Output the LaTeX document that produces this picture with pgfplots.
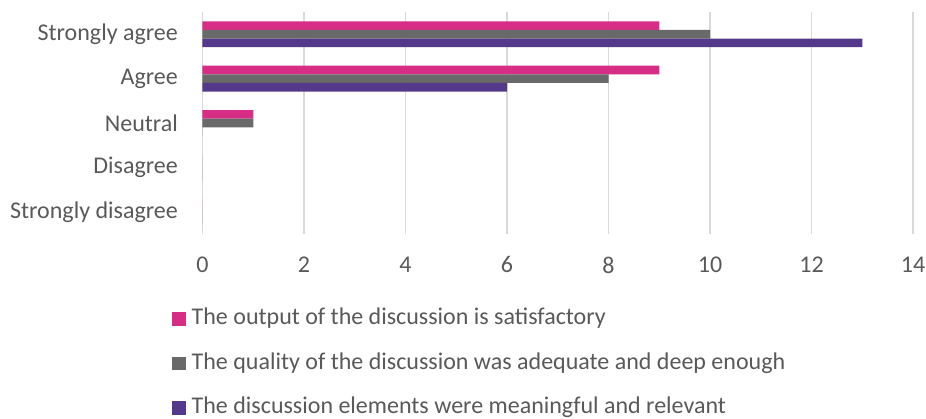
\documentclass[border=0pt]{standalone}
\usepackage{fontspec}
\setmainfont{Carlito}
\usepackage{pgfplots}
\pgfplotsset{compat=1.18}

\definecolor{cpink}{RGB}{214,46,132}
\definecolor{cgray}{RGB}{105,105,105}
\definecolor{cpurple}{RGB}{84,57,138}
\definecolor{ctext}{RGB}{89,89,89}
\definecolor{cgrid}{RGB}{217,217,217}

\begin{document}
\begin{tikzpicture}
\useasboundingbox (0,0) rectangle (926pt,-419pt);
\begin{axis}[
    at={(202.5pt,-234pt)}, anchor=south west,
    scale only axis, width=710.5pt, height=222pt,
    xbar, bar width=8.6pt,
    xmin=0, xmax=14, ymin=-0.5, ymax=4.5,
    xtick={0,2,...,14},
    ytick={0,1,2,3,4},
    yticklabels={Strongly disagree,Disagree,Neutral,Agree,Strongly agree},
    axis x line=bottom, axis y line=left,
    axis line style={draw=none},
    major tick length=0pt,
    xmajorgrids, grid style={cgrid, line width=1.3pt},
    /pgf/number format/assume math mode=true,
    font=\fontsize{24}{28}\selectfont,
    ticklabel style={text=ctext, font=\fontsize{24}{28}\selectfont},
    yticklabel style={anchor=east, inner sep=0pt, xshift=-24.5pt},
    xticklabel style={anchor=north, inner sep=0pt, yshift=-22.5pt},
    legend style={at={(-0.0425,-0.3288)}, anchor=north west, draw=none, fill=none,
        inner sep=0pt, outer sep=0pt, row sep=20.5pt,
        nodes={inner sep=0pt, text=ctext, text height=18pt, text depth=6pt},
        font=\fontsize{24}{28}\selectfont},
    legend cell align=left,
    legend image code/.code={\fill[#1] (0pt,-6.7pt) rectangle (13.4pt,6.7pt); \path (19.4pt,0pt);},
]
\addplot[draw=none, fill=cpink, bar shift=8.6pt] coordinates {(0,0) (0,1) (1,2) (9,3) (9,4)};
\addplot[draw=none, fill=cgray, bar shift=0pt] coordinates {(0,0) (0,1) (1,2) (8,3) (10,4)};
\addplot[draw=none, fill=cpurple, bar shift=-8.6pt] coordinates {(0,0) (0,1) (0,2) (6,3) (13,4)};
\legend{The output of the discussion is satisfactory,
        The quality of the discussion was adequate and deep enough,
        The discussion elements were meaningful and relevant}
\end{axis}
\end{tikzpicture}
\end{document}
